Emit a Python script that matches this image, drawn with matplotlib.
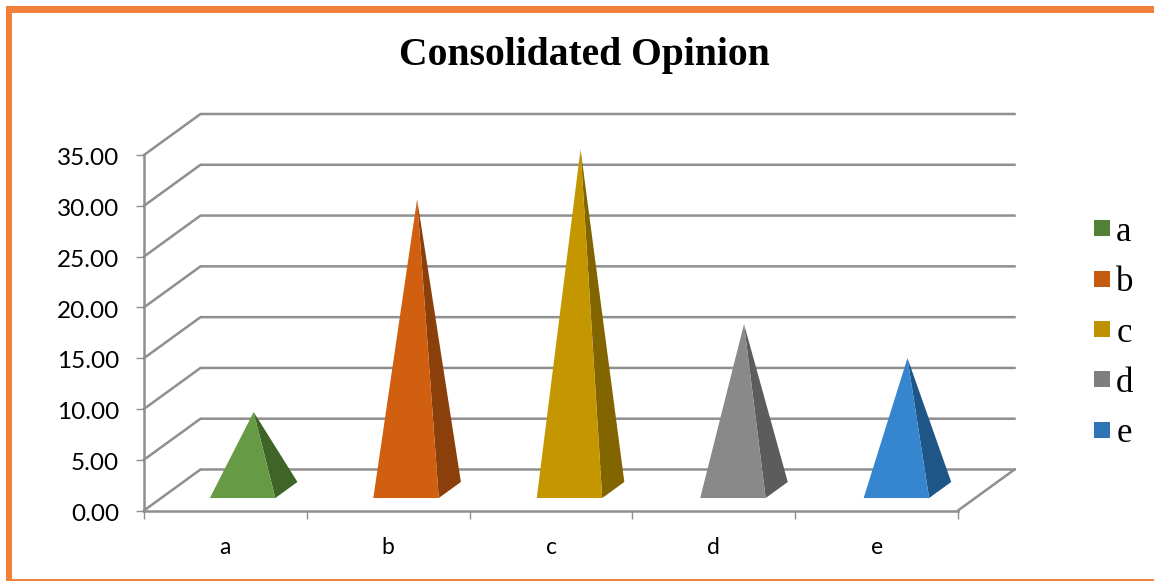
import matplotlib
matplotlib.use("Agg")
import matplotlib.pyplot as plt
from matplotlib.patches import Patch, Rectangle
from matplotlib.transforms import ScaledTranslation

categories = ["a", "b", "c", "d", "e"]
values = [7.68, 28.64, 33.56, 16.34, 12.99]
front_colors = ["#669A45", "#D15F10", "#C49700", "#898989", "#3585CF"]
side_colors = ["#3F6427", "#8B3F0A", "#836500", "#5C5C5C", "#1F5688"]
legend_colors = ["#548235", "#C55A11", "#BF9000", "#7F7F7F", "#2E75B6"]
y_ticks = [0, 5, 10, 15, 20, 25, 30, 35]

W, H = 1154, 581
GRID = "#8F8F8F"
ORANGE = "#F2803A"

fig = plt.figure(figsize=(W / 100, H / 100), dpi=100, facecolor="white")
ax = fig.add_axes([144 / W, (H - 510.5) / H, (958 - 144) / W, 355.5 / H])
ax.set_xlim(0, 5)
ax.set_ylim(0, 35)
ax.patch.set_visible(False)

# Oblique projection: depth 0 is the front plane, depth 1 the back wall.
DX = 56.5 / (814 / 5)
DY = 41 / (355.5 / 35)


def project(x, y, depth):
    return x + DX * depth, y + DY * depth


# Back wall gridlines and their returns along the side wall.
for v in y_ticks:
    x0, y0 = project(0, v, 0)
    x1, y1 = project(0, v, 1)
    x2, y2 = project(5, v, 1)
    ax.plot([x0, x1, x2], [y0, y1, y2], color=GRID, lw=1.8, clip_on=False,
            solid_joinstyle="miter", zorder=1)

# Right edge of the floor.
x0, y0 = project(5, 0, 0)
x1, y1 = project(5, 0, 1)
ax.plot([x0, x1], [y0, y1], color=GRID, lw=1.8, clip_on=False, zorder=1)

# Square pyramids standing on the floor.
HALF_W = 0.201
PITCH = 1.004
D_FRONT, D_BACK = 0.304, 0.696
for i, (val, fc, sc) in enumerate(zip(values, front_colors, side_colors)):
    c = 0.5 + i * PITCH
    fl = project(c - HALF_W, 0, D_FRONT)
    fr = project(c + HALF_W, 0, D_FRONT)
    br = project(c + HALF_W, 0, D_BACK)
    apex = project(c, val, 0.5)
    ax.fill(*zip(fr, br, apex), color=sc, lw=0, clip_on=False, zorder=3)
    ax.fill(*zip(fl, fr, apex), color=fc, lw=0, clip_on=False, zorder=4)

# Axes lines and labels.
for name in ("top", "right"):
    ax.spines[name].set_visible(False)
for name in ("left", "bottom"):
    ax.spines[name].set_color(GRID)
    ax.spines[name].set_linewidth(1.8)

ax.set_yticks(y_ticks)
ax.set_yticklabels([f"{v:.2f}" for v in y_ticks], family="Lato", fontsize=17.5, color="black")
ax.tick_params(axis="y", length=6, width=1.0, color=GRID, pad=12)
nudge = ScaledTranslation(0, -1.2 / 72, fig.dpi_scale_trans)
for label in ax.get_yticklabels():
    label.set_transform(label.get_transform() + nudge)
ax.set_xticks(range(6))
ax.set_xticklabels([])
ax.tick_params(axis="x", which="major", length=6, width=1.0, color=GRID)
ax.set_xticks([i + 0.5 for i in range(5)], minor=True)
ax.set_xticklabels(categories, minor=True, family="Lato", fontsize=16.5, color="black")
ax.tick_params(axis="x", which="minor", length=0, pad=19)

fig.text(584 / W, (H - 56) / H, "Consolidated Opinion", family="Liberation Serif",
         fontweight="bold", fontsize=28.5, ha="center", va="center", color="black")

handles = [Patch(facecolor=c, edgecolor="none", label=l) for c, l in zip(legend_colors, categories)]
ax.legend(handles=handles, loc="center left", bbox_to_anchor=(1094 / W, (H - 333) / H),
          bbox_transform=fig.transFigure, frameon=False, ncol=1, borderpad=0, borderaxespad=0,
          prop={"family": "Liberation Serif", "size": 25}, handlelength=0.46, handleheight=0.33,
          handletextpad=0.18, labelspacing=0.5)

# Orange frame: heavy on the top and left, hairline along the bottom.
for x, y, w, h in [(6, 6, W - 6, 6.5), (6, 6, 6, H - 6), (6, H - 1.6, W - 6, 1.3)]:
    fig.add_artist(Rectangle((x / W, (H - y - h) / H), w / W, h / H, transform=fig.transFigure,
                             facecolor=ORANGE, edgecolor="none"))

fig.savefig("out.png", dpi=100, facecolor="white")
